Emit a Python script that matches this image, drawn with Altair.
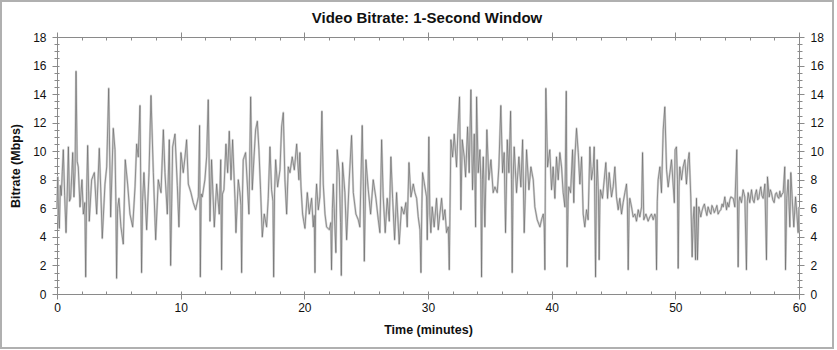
import altair as alt
import pandas as pd

# Time (minutes) and bitrate (Mbps)
minutes = [
 0.00,0.06,0.13,0.19,0.27,0.35,0.43,0.51,0.62,0.73,0.82,0.92,1.01,1.10,1.20,1.27,1.37,1.46,1.54,1.63,
 1.72,1.86,2.02,2.13,2.25,2.32,2.40,2.48,2.61,2.80,3.02,3.21,3.42,3.55,3.66,3.88,4.02,4.18,4.34,4.55,
 4.69,4.76,4.82,4.90,5.01,5.17,5.36,5.52,5.71,5.90,6.12,6.31,6.44,6.57,6.71,6.78,6.84,6.92,7.03,7.25,
 7.44,7.60,7.79,7.98,8.19,8.41,8.60,8.73,8.92,9.08,9.19,9.35,9.54,9.73,9.86,10.02,10.21,10.35,10.48,10.62,
 10.83,11.02,11.21,11.43,11.53,11.59,11.66,11.75,11.96,12.10,12.23,12.37,12.50,12.72,12.91,13.12,13.24,13.31,13.38,13.50,
 13.66,13.80,13.93,14.07,14.20,14.39,14.47,14.66,14.79,14.87,14.93,15.00,15.06,15.25,15.39,15.52,15.66,15.79,15.93,16.06,
 16.20,16.33,16.46,16.60,16.76,16.95,17.08,17.22,17.35,17.46,17.52,17.59,17.68,17.84,18.03,18.16,18.30,18.43,18.57,18.70,
 18.84,19.02,19.19,19.38,19.56,19.64,19.73,19.86,19.95,20.05,20.24,20.40,20.59,20.72,20.80,20.86,20.92,20.99,21.13,21.26,
 21.42,21.53,21.67,21.80,22.02,22.14,22.20,22.27,22.34,22.47,22.55,22.66,22.82,22.93,22.99,23.09,23.28,23.42,23.63,23.82,
 23.96,24.17,24.36,24.49,24.68,24.76,24.85,24.98,25.17,25.36,25.57,25.79,25.98,26.11,26.25,26.38,26.54,26.70,26.87,27.00,
 27.14,27.30,27.46,27.67,27.86,28.05,28.21,28.32,28.46,28.62,28.81,28.94,29.08,29.21,29.35,29.43,29.50,29.56,29.75,29.88,
 29.94,30.07,30.15,30.23,30.34,30.50,30.69,30.83,30.96,31.10,31.23,31.37,31.50,31.64,31.72,31.78,31.85,31.99,32.12,32.31,
 32.44,32.55,32.66,32.77,32.93,33.04,33.20,33.33,33.47,33.60,33.74,33.85,33.93,34.06,34.20,34.27,34.33,34.40,34.47,34.60,
 34.76,34.92,35.09,35.27,35.41,35.60,35.73,35.89,36.03,36.16,36.27,36.41,36.54,36.68,36.75,36.81,36.88,36.97,37.16,37.35,
 37.51,37.65,37.78,37.97,38.16,38.32,38.51,38.64,38.83,39.05,39.18,39.32,39.40,39.45,39.53,39.67,39.85,39.99,40.12,40.26,
 40.39,40.53,40.66,40.80,40.93,41.07,41.18,41.25,41.33,41.39,41.53,41.69,41.79,41.88,42.01,42.15,42.28,42.42,42.55,42.68,
 42.82,42.95,43.09,43.22,43.36,43.44,43.55,43.62,43.68,43.78,43.84,43.90,43.95,44.11,44.25,44.38,44.52,44.65,44.84,44.97,
 45.11,45.24,45.38,45.51,45.65,45.78,45.92,46.05,46.12,46.19,46.26,46.32,46.46,46.59,46.73,46.86,47.00,47.13,47.27,47.35,
 47.45,47.62,47.80,47.94,48.07,48.21,48.34,48.42,48.48,48.54,48.61,48.75,48.88,49.02,49.15,49.29,49.42,49.56,49.69,49.82,
 49.92,49.98,50.09,50.17,50.23,50.30,50.36,50.50,50.63,50.77,50.90,51.04,51.12,51.25,51.36,51.44,51.52,51.63,51.71,51.79,
 51.90,52.06,52.15,52.25,52.35,52.44,52.55,52.65,52.76,52.87,52.96,53.06,53.15,53.25,53.36,53.46,53.57,53.68,53.78,53.87,
 54.00,54.14,54.23,54.33,54.41,54.49,54.68,54.81,54.97,55.08,55.15,55.22,55.35,55.48,55.62,55.75,55.82,55.89,56.02,56.16,
 56.27,56.37,56.47,56.56,56.66,56.75,56.83,56.91,57.00,57.10,57.24,57.37,57.45,57.59,57.68,57.77,57.88,57.99,58.09,58.18,
 58.28,58.37,58.45,58.53,58.63,58.72,58.85,58.91,59.01,59.12,59.26,59.34,59.45,59.58,59.72,59.83,59.93,60.00,
]
mbps = [
 6.0,8.2,5.5,4.6,7.6,6.9,8.6,10.1,6.9,4.3,6.8,10.3,6.5,6.7,8.4,9.9,6.8,8.6,15.6,9.3,
 8.9,6.1,8.0,5.6,6.4,1.2,7.2,10.4,5.1,8.0,8.5,5.6,10.2,7.0,3.9,7.7,8.9,14.4,5.4,11.6,
 10.1,6.5,1.1,6.0,6.7,4.7,3.5,9.4,7.7,5.6,4.7,7.5,10.5,9.6,13.2,7.0,1.5,6.5,8.5,4.5,
 8.5,13.9,8.5,3.8,8.0,7.1,11.5,8.5,5.6,10.8,2.0,10.3,11.2,7.6,4.7,9.9,8.5,9.6,10.8,7.7,
 7.1,6.4,5.9,6.8,11.8,1.2,7.0,6.8,8.0,9.6,13.6,5.1,9.4,4.7,7.7,5.6,9.4,1.7,7.0,7.3,
 10.5,8.5,11.4,8.0,10.8,6.7,4.3,8.0,7.1,6.2,1.5,7.0,9.4,9.9,7.7,5.6,13.8,7.3,9.6,11.5,
 12.1,10.1,7.3,4.0,5.6,4.7,6.7,10.3,7.3,6.5,1.2,7.0,9.4,7.5,8.7,11.7,12.7,8.0,5.6,8.9,
 8.5,9.6,8.7,10.5,8.0,9.9,7.5,5.6,5.1,4.6,7.1,5.6,6.7,4.7,5.5,1.5,6.5,7.7,5.9,6.8,
 12.8,7.7,5.6,4.7,4.5,5.0,1.7,6.0,7.7,4.7,2.9,10.1,8.5,5.0,1.3,9.2,7.1,3.8,8.0,11.1,
 7.1,5.6,5.2,4.7,11.8,8.2,2.3,9.4,7.3,5.6,8.0,6.7,5.2,4.3,10.8,6.8,4.3,6.7,5.1,9.6,
 6.7,3.8,7.1,3.5,6.1,5.6,6.4,4.7,9.2,6.8,7.7,7.1,6.7,5.4,4.5,1.5,6.0,8.5,7.5,6.8,
 3.8,11.0,5.6,4.3,6.1,4.7,6.7,4.5,5.6,6.7,5.2,5.9,4.3,4.7,1.7,6.0,10.8,9.6,11.2,8.9,
 11.9,13.8,5.9,10.8,9.6,8.2,11.7,8.5,14.3,7.3,11.2,4.7,13.8,8.5,10.1,8.0,1.2,8.0,9.6,4.7,
 11.5,8.0,9.4,7.1,7.5,7.1,8.9,13.2,8.5,9.9,4.3,10.8,8.5,12.8,8.0,1.5,8.0,10.3,7.1,9.6,
 7.5,10.8,4.3,10.1,7.3,8.9,8.0,6.1,5.2,4.7,5.2,5.6,4.7,1.7,14.4,8.9,10.1,7.3,8.9,6.7,
 9.6,8.0,9.9,8.9,7.1,6.1,14.2,1.9,6.5,7.5,7.1,10.1,6.4,9.6,11.6,9.9,7.7,9.6,5.6,4.7,
 5.9,5.2,10.3,8.0,8.9,10.3,1.2,7.5,9.4,7.0,2.4,6.5,7.3,6.7,8.0,9.2,6.7,8.5,6.8,7.5,
 8.9,6.8,5.9,6.7,5.6,6.4,7.1,7.7,6.5,1.7,6.0,6.7,6.1,5.4,5.6,5.1,5.9,5.4,6.1,9.9,
 5.2,5.6,5.1,5.4,5.6,5.2,5.6,5.4,1.7,6.5,8.0,8.9,7.1,11.5,13.1,8.7,7.5,8.5,9.4,7.7,
 6.4,10.1,10.3,8.0,1.8,7.5,8.9,8.0,8.9,9.4,7.7,9.4,9.9,6.8,2.6,5.2,6.1,2.4,6.7,2.4,
 6.1,5.4,5.8,6.1,6.3,5.9,5.5,6.1,5.8,5.6,6.2,6.0,5.7,5.9,6.2,5.6,5.8,5.9,6.3,6.1,
 6.8,5.9,6.4,6.1,6.6,6.8,6.7,6.1,10.1,1.9,6.5,6.8,6.4,7.3,6.8,1.7,6.5,7.1,6.4,7.3,
 6.6,6.4,7.0,7.3,6.6,6.7,7.2,7.5,6.9,6.7,7.7,2.4,8.2,6.8,7.3,7.1,6.6,6.4,7.0,7.1,
 6.8,6.7,7.2,6.8,7.0,7.1,8.9,1.7,6.7,8.0,4.7,8.5,6.7,4.7,6.8,5.6,4.3,6.1,
]

# Axis tick values and texts
x_major = [0, 10, 20, 30, 40, 50, 60]
x_all = list(range(0, 61, 2))
y_major = [0, 2, 4, 6, 8, 10, 12, 14, 16, 18]
y_all = [i * 0.5 for i in range(0, 37)]
y_minor = [v for v in y_all if v not in y_major]
title_text = "Video Bitrate: 1-Second Window"

df = pd.DataFrame({"t": minutes, "v": mbps})

FONT = "Liberation Sans"
AX = "#8a8a8a"
xs = alt.Scale(domain=[0, 60], nice=False, zero=False)
ys = alt.Scale(domain=[0, 18], nice=False)

def plain(**kw):
    base = dict(grid=False, domain=False, labels=False, title=None,
                tickColor=AX, tickWidth=1)
    base.update(kw)
    return alt.Axis(**base)

lab = dict(labelFont=FONT, labelFontSize=12, labelColor="#111",
           labelFlush=False, labelOverlap=False, tickColor=AX, tickWidth=1,
           domainColor=AX, domainWidth=1, grid=False)

x_bottom = alt.Axis(orient="bottom", values=x_major, tickSize=5, labelPadding=3,
                    title="Time (minutes)", titleFont=FONT, titleFontSize=12.5,
                    titleFontWeight="bold", titleColor="#111", titlePadding=10, **lab)
y_left = alt.Axis(orient="left", values=y_major, tickSize=5, labelPadding=6,
                  title="Bitrate (Mbps)", titleFont=FONT, titleFontSize=12.5,
                  titleFontWeight="bold", titleColor="#111", titlePadding=10, **lab)
x_top = alt.Axis(orient="top", values=x_major, tickSize=5, labels=False, title=None,
                 **{k: v for k, v in lab.items() if not k.startswith("label")})
y_right = alt.Axis(orient="right", values=y_major, tickSize=5, labelPadding=6,
                   title=None, **lab)


def layer(mark, xa, ya):
    return mark.encode(
        x=alt.X("t:Q", scale=xs, axis=xa),
        y=alt.Y("v:Q", scale=ys, axis=ya),
    )

base = alt.Chart(df)
envelope = layer(base.mark_line(color="#d2d2d2", strokeWidth=2.2, strokeJoin="round"), x_bottom, y_left)
core = layer(base.mark_line(color="#686868", strokeWidth=0.65), x_top, y_right)
inv = dict(opacity=0)
t1 = layer(base.mark_point(**inv), plain(orient="bottom", values=x_all, tickSize=3, offset=-3),
           plain(orient="left", values=y_all, tickSize=2, offset=-2))
t2 = layer(base.mark_point(**inv), plain(orient="top", values=x_all, tickSize=3, offset=-3),
           plain(orient="right", values=y_all, tickSize=2, offset=-2))
t3 = layer(base.mark_point(**inv), None, plain(orient="left", values=y_minor, tickSize=3))
t4 = layer(base.mark_point(**inv), None, plain(orient="right", values=y_minor, tickSize=3))

deco = alt.Chart(alt.Data(values=[{"title": title_text}]))
frame = deco.mark_rect(
    fill="transparent", stroke="#b0b0b0", strokeWidth=2
).encode(x=alt.value(-56), x2=alt.value(776), y=alt.value(-36), y2=alt.value(311))
title = deco.mark_text(
    font=FONT, fontSize=15, fontWeight="bold", color="#111",
    align="center", baseline="middle"
).encode(text="title:N", x=alt.value(370), y=alt.value(-19))

chart = alt.layer(envelope, core, t1, t2, t3, t4, frame, title).resolve_axis(
    x="independent", y="independent"
).properties(
    width=742, height=257,
    padding={"left": 57, "top": 37, "right": 38, "bottom": 56},
    autosize=alt.AutoSizeParams(type="none"),
).configure_view(stroke="transparent").configure(background="white")

chart.save("out.html", embed_options={"renderer": "svg", "actions": False})
